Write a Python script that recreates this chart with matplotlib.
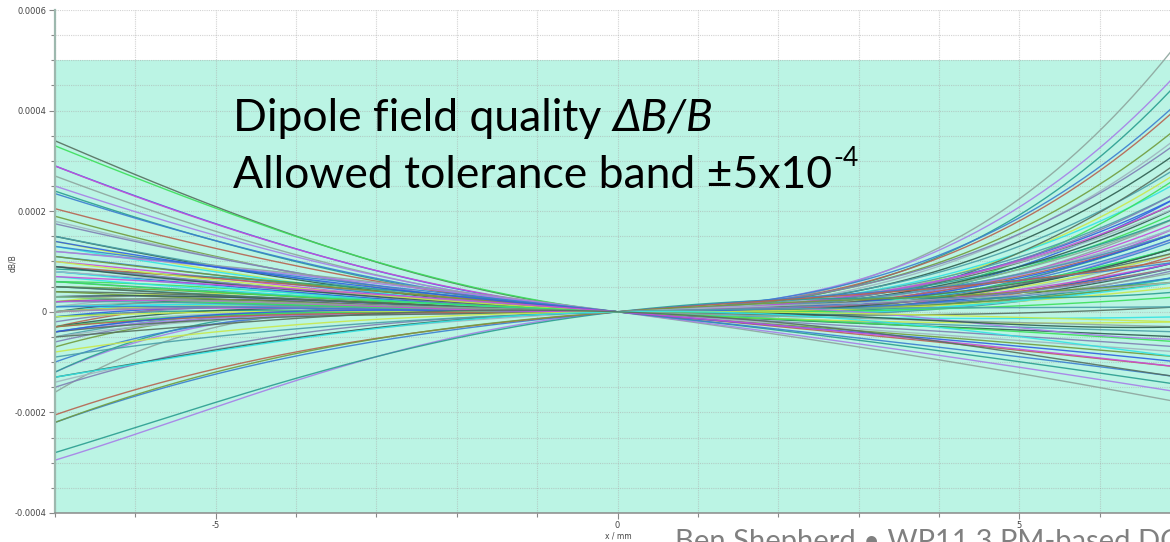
import numpy as np
import matplotlib
matplotlib.use("Agg")
import matplotlib.pyplot as plt
from matplotlib.ticker import MultipleLocator, FixedLocator

# Normalised field-error harmonics per magnet (units of 1e-4, reference radius 7 mm):
# dB/B(x) = b2*u + b3*u^2 + b4*u^3 + b5*u^4,  u = x / R_REF
R_REF = 7.0
b2 = [0.0, 0.2, 0.0, 0.3, 0.1, 0.2, 0.0, 0.3, 0.0, 0.2, -0.2, 0.1,
      -1.1, -1.2, -0.9, -1.0, -0.8, -0.9, -0.7, -0.8, -0.8, -0.5, -0.6, -0.7, -0.5, -0.6, -0.4, -0.5,
      0.0, -0.2, 0.1, -0.3, 0.0, -0.1, 0.2, -0.4, 0.0, -0.2, 0.1, -0.3, 0.0, 0.2, -0.1, 0.0,
      -0.2, 0.1, -0.3, 0.0, -0.1, 0.2, -0.2, 0.0, 0.1, -0.1, 0.3, 0.0, -0.2, 0.1, 0.0, -0.3,
      0.2, -0.1, 0.0, 0.1,
      -1.5, -1.4, -1.2, -1.2, -1.0, -0.9, -0.8, -0.7, -0.6, -0.5, -0.6, -0.4, -0.3, -0.5, -1.0, -0.9, -0.3,
      1.0, 1.3, 1.0, 0.9, 0.8, 0.5, 0.3, 0.2, 0.3, 0.1, 0.2, -0.4]
b3 = [1.9, 1.8, 1.7, 1.6, 1.9, 1.5, 1.8, 1.4, 1.6, 1.2, 1.5, 1.3,
      3.2, 3.0, 2.6, 2.3, 2.3, 2.0, 2.0, 1.9, 1.6, 1.6, 1.5, 1.3, 1.2, 1.1, 1.2, 1.0,
      1.2, 1.3, 1.1, 1.4, 1.0, 1.0, 0.9, 1.3, 0.8, 0.9, 0.7, 1.1, 0.9, 1.0, 0.6, 0.7,
      0.7, 0.5, 0.9, 0.5, 0.4, 0.6, 0.6, 0.4, 0.3, 0.5, 0.8, 1.1, 0.8, 0.9, 0.2, 0.7,
      0.4, 0.3, 0.6, 1.2,
      -0.3, -0.2, -0.3, 0.0, -0.1, 0.1, 0.0, 0.1, 0.2, 0.1, 0.4, 0.3, 0.3, 0.0, 0.2, -0.2, 0.0,
      -2.6, -1.8, -0.6, -0.5, -0.8, -0.4, -0.3, -1.2, -0.4, -0.5, -1.4, -1.2]
b4 = [3.5, 2.8, 2.9, 2.3, 2.1, 2.0, 1.7, 1.7, 1.6, 1.5, 1.5, 1.2,
      0.9, 0.9, 0.6, 0.4, 0.4, 0.4, 0.3, 0.35, 0.35, 0.2, 0.3, 0.25, 0.2, 0.2, 0.2, 0.2,
      1.0, 0.9, 1.1, 0.7, 0.9, 0.8, 0.8, 0.6, 0.8, 0.6, 0.9, 0.5, 1.2, 1.2, 0.7, 0.6,
      0.5, 0.7, 0.4, 0.5, 0.5, 0.8, 0.3, 0.3, 0.5, 0.2, 1.0, 1.3, 0.7, 0.6, 0.3, 0.2,
      0.6, 0.1, 1.0, 0.9,
      0.0, 0.0, 0.05, -0.1, 0.0, -0.1, 0.0, -0.1, -0.1, 0.0, 0.0, 0.0, 0.1, -0.1, -0.2, 0.0, 0.0,
      0.2, 0.3, 0.6, 0.65, 0.6, 0.5, 0.9, 0.3, 0.2, 0.2, 0.0, 0.0]
b5 = [0.0] * 81 + [0.85, 0.6, 0.0, 0.0, 0.0, 0.0, 0.0, 0.4, 0.0, 0.0, 0.3, 0.3]

BAND_LO, BAND_HI = -4e-4, 5e-4
X_LIM = (-7.0, 7.0)
Y_LIM = (-0.0004, 0.0006)
Y_TICKS = [-0.0004, -0.0002, 0, 0.0002, 0.0004, 0.0006]
Y_LABELS = ["-0.0004", "-0.0002", "0", "0.0002", "0.0004", "0.0006"]
X_TICKS = [-5, 0, 5]
X_LABELS = ["-5", "0", "5"]

palette = ['#8ea69e', '#3be05a', '#c9e84b', '#7f80b4', '#b7634f', '#a77fe8',
           '#2f60e0', '#33e3e3', '#2e5e50', '#719c3d', '#2a9e90', '#c84fd8',
           '#56705f', '#4aa0a8', '#9fb6c0', '#3b7fd0']

W, H = 1170, 542
fig = plt.figure(figsize=(W / 100, H / 100), dpi=100)
ax = fig.add_axes([55 / W, (H - 513) / H, (1180 - 55) / W, 503 / H])
ax.set_xlim(*X_LIM)
ax.set_ylim(*Y_LIM)

# tolerance band
ax.axhspan(BAND_LO, BAND_HI, color='#bbf4e4', zorder=0.5, lw=0)

# field-quality curves
x = np.linspace(X_LIM[0], X_LIM[1], 600)
u = x / R_REF
for i, (c2, c3, c4, c5) in enumerate(zip(b2, b3, b4, b5)):
    y = (c2 * u + c3 * u**2 + c4 * u**3 + c5 * u**4) * 1e-4
    ax.plot(x, y, color=palette[(i * 5) % len(palette)], lw=1.0, alpha=0.9,
            zorder=2, solid_capstyle='butt')

# ticks and grid
ax.yaxis.set_major_locator(FixedLocator(Y_TICKS))
ax.set_yticklabels(Y_LABELS)
ax.yaxis.set_minor_locator(MultipleLocator(0.00005))
ax.xaxis.set_major_locator(FixedLocator(X_TICKS))
ax.set_xticklabels(X_LABELS)
ax.xaxis.set_minor_locator(MultipleLocator(1))
ax.tick_params(axis='both', which='both', labelsize=6, labelcolor='#444444',
               color='#888888', width=0.8)
ax.tick_params(axis='both', which='major', length=4, pad=2)
ax.tick_params(axis='both', which='minor', length=3)
ax.grid(True, which='both', color='#a8a8a8', alpha=0.5, lw=0.8,
        linestyle=(0, (1, 1)), zorder=1)
for line in ax.get_xgridlines() + ax.get_ygridlines():
    line.set_zorder(1)

for s in ['top', 'right']:
    ax.spines[s].set_visible(False)
ax.spines['left'].set_color('#9db8ae')
ax.spines['left'].set_linewidth(1.6)
ax.spines['bottom'].set_color('#8a8a8a')
ax.spines['bottom'].set_linewidth(1.1)
ax.set_facecolor('white')


def px(xp, yp):
    return xp / W, 1 - yp / H


fig.text(*px(618, 536), "x / mm", fontsize=5.5, color='#444444', ha='center', va='center')
fig.text(*px(13, 263), "dB/B", fontsize=5.5, color='#444444', rotation=90,
         ha='center', va='center')

# annotation text
fam = ['Lato', 'DejaVu Sans']
FS = 32
fig.canvas.draw()
r = fig.canvas.get_renderer()
t1 = fig.text(*px(233, 131), "Dipole field quality ", fontsize=FS, family=fam,
              color='black', va='baseline', ha='left')
bb = t1.get_window_extent(r)
fig.text(bb.x1 / W, 1 - 131 / H, "ΔB/B", fontsize=FS, family=fam, style='italic',
         color='black', va='baseline', ha='left')
t2 = fig.text(*px(233, 188), "Allowed tolerance band \u00b15x10", fontsize=FS, family=fam,
              color='black', va='baseline', ha='left')
bb2 = t2.get_window_extent(r)
fig.text(bb2.x1 / W + 0.001, 1 - 166 / H, "-4", fontsize=FS * 0.6, family=fam,
         color='black', va='baseline', ha='left')

fig.text(*px(675, 550), "Ben Shepherd \u2022 WP11.3 PM-based DQ", fontsize=21, family=fam,
         color='#808080', va='baseline', ha='left')

fig.savefig("out.png", dpi=100)
